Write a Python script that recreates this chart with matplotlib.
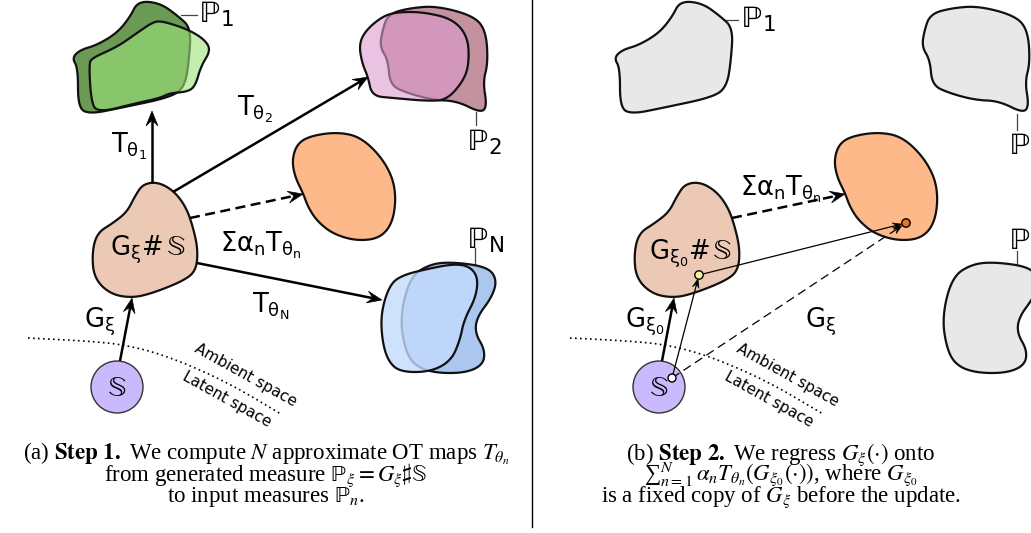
import numpy as np
import matplotlib
matplotlib.use('Agg')
import matplotlib.pyplot as plt
from matplotlib.patches import Polygon, Circle

# outlines (pixel coords, left panel)
green_back = [(138, 1), (160, 3), (178, 16), (191, 28), (189, 60), (185, 86), (172, 97),
              (120, 108), (90, 114), (78, 108), (78, 68), (72, 58), (80, 50), (97, 45),
              (117, 33), (130, 17)]
green_front = [(92, 58), (117, 47), (137, 33), (153, 22), (162, 21), (187, 29), (204, 39),
               (211, 50), (201, 66), (195, 87), (186, 92), (170, 93), (160, 98), (137, 103),
               (97, 113), (91, 100), (89, 64)]
pink_back = [(388, 14), (410, 8), (437, 6), (474, 16), (486, 31), (488, 63), (483, 82),
             (487, 106), (481, 113), (457, 101), (433, 100), (407, 93), (390, 85), (388, 60),
             (380, 47), (382, 32)]
pink_front = [(366, 30), (383, 16), (398, 12), (423, 12), (453, 19), (468, 37), (469, 63),
              (464, 80), (447, 100), (427, 101), (393, 98), (372, 96), (368, 77), (362, 63),
              (359, 44)]
blue_back = [(430, 264), (453, 262), (488, 267), (497, 280), (492, 297), (477, 317),
             (475, 333), (485, 350), (483, 365), (465, 373), (435, 373), (415, 366),
             (405, 350), (400, 317), (410, 277)]
blue_front = [(390, 284), (403, 275), (427, 269), (453, 264), (469, 266), (478, 277),
              (476, 297), (464, 320), (460, 340), (451, 361), (430, 372), (400, 372),
              (388, 361), (382, 340), (381, 312)]
orange_blob = [(297, 144), (310, 136), (337, 132), (361, 137), (384, 160), (396, 187),
               (394, 220), (381, 238), (357, 241), (333, 234), (317, 221), (308, 207),
               (303, 193), (295, 177), (292, 160)]
beige_blob = [(143, 184), (158, 182), (174, 191), (186, 207), (193, 227), (198, 250),
              (196, 271), (183, 281), (153, 293), (132, 298), (110, 294), (94, 278),
              (92, 253), (97, 233), (113, 223), (127, 212), (135, 196)]
space_curve = [(28, 338), (87, 341), (127, 345), (170, 357), (227, 382), (281, 414)]

circle_center = (117, 387)
circle_radius = 26
shift = 542  # right panel repeats the left one

# point positions in panel (b)
pt_white = (672, 378)
pt_yellow = (699, 275)
pt_orange = (906, 223)

caption_a = [r"(a) $\mathbf{Step\ 1.}$ We compute $N$ approximate OT maps $T_{\theta_n}$",
             r"from generated measure $\mathrm{\mathbb{P}}_\xi = G_\xi\sharp\mathrm{\mathbb{S}}$",
             r"to input measures $\mathrm{\mathbb{P}}_n$."]
caption_b = [r"(b) $\mathbf{Step\ 2.}$ We regress $G_\xi(\cdot)$ onto",
             r"∑$_{n=1}^{N}\,\alpha_n T_{\theta_n}\left(G_{\xi_0}(\cdot)\right)$, where $G_{\xi_0}$",
             r"is a fixed copy of $G_\xi$ before the update."]

plt.rcParams['font.family'] = ['DejaVu Sans']

fig = plt.figure(figsize=(10.31, 5.33), dpi=100)
ax = fig.add_axes([0, 0, 1, 1])
ax.set_xlim(0, 1031)
ax.set_ylim(533, 0)
ax.axis('off')


def chaikin(pts, it=4, closed=True):
    P = np.array(pts, float)
    for _ in range(it):
        Q = np.roll(P, -1, axis=0) if closed else P[1:]
        A = P if closed else P[:-1]
        new = np.empty((2 * len(A), 2))
        new[0::2] = 0.75 * A + 0.25 * Q
        new[1::2] = 0.25 * A + 0.75 * Q
        P = new if closed else np.vstack([pts[0], new, pts[-1]])
    return P


def blob(pts, fc, dx=0, alpha=1.0, z=2):
    xy = chaikin(pts) + [dx, 0]
    ax.add_patch(Polygon(xy, closed=True, fc=fc, ec='none', alpha=alpha, zorder=z))
    ax.add_patch(Polygon(xy, closed=True, fc='none', ec='#111111', lw=1.6,
                         joinstyle='round', zorder=z + 0.1))


def arrow(p0, p1, lw=1.8, hl=15, hw=6, ls='-', shrink=0):
    p0 = np.array(p0, float)
    p1 = np.array(p1, float)
    u = (p1 - p0) / np.linalg.norm(p1 - p0)
    nrm = np.array([-u[1], u[0]])
    tip = p1 - u * shrink
    end = tip - u * hl * 0.6
    ax.plot([p0[0], end[0]], [p0[1], end[1]], color='k', lw=lw, ls=ls,
            solid_capstyle='butt', zorder=5)
    head = [tip, tip - u * hl + nrm * hw, tip - u * hl * 0.62, tip - u * hl - nrm * hw]
    ax.add_patch(Polygon(head, closed=True, fc='k', ec='k', lw=0.4, zorder=5))


def sans_label(x, y, s, size=18.5):
    ax.text(x, y, s, fontsize=size, ha='left', va='baseline', zorder=6)


def bb_label(x, y, s, size=21, ha='left', va='baseline'):
    ax.text(x, y, s, fontsize=size, ha=ha, va=va, math_fontfamily='stix', zorder=6)


def leader(xs, ys):
    ax.plot(xs, ys, color='#444444', lw=0.9, zorder=1)


# ---------------- panel (a) ----------------
blob(green_back, '#6b9a55')
blob(green_front, '#9ee47b', alpha=0.6, z=3)
blob(pink_back, '#c4929f')
blob(pink_front, '#de9bd0', alpha=0.6, z=3)
blob(blue_back, '#abc7ef')
blob(blue_front, '#c4dbfc', alpha=0.8, z=3)
blob(orange_blob, '#fdb98a')
blob(beige_blob, '#ecc9b4')

# ambient / latent space, source circle, shared arrows
for dx in (0, shift):
    c = chaikin(space_curve, closed=False) + [dx, 0]
    ax.plot(c[:, 0], c[:, 1], color='k', lw=1.2, ls=(0, (1, 2)), zorder=1)
    ax.text(246 + dx, 375, 'Ambient space', fontsize=11, rotation=-29,
            ha='center', va='center', rotation_mode='anchor')
    ax.text(227 + dx, 399, 'Latent space', fontsize=11, rotation=-29,
            ha='center', va='center', rotation_mode='anchor')
    ax.add_patch(Circle((circle_center[0] + dx, circle_center[1]), circle_radius,
                        fc='#cbb9fe', ec='#333333', lw=1.0, zorder=2))
    bb_label(circle_center[0] + dx, circle_center[1] + 1, r'$\mathrm{\mathbb{S}}$',
             ha='center', va='center')
    arrow((120 + dx, 361), (132 + dx, 298))
    arrow((190 + dx, 218), (303 + dx, 194), ls=(0, (4, 2.2)))

arrow((152, 183), (152, 111))
arrow((173, 192), (368, 77))
arrow((197, 263), (382, 300))

sans_label(111, 152, r'T$_{\mathrm{\theta_1}}$')
sans_label(237, 115, r'T$_{\mathrm{\theta_2}}$')
sans_label(252, 312, r'T$_{\mathrm{\theta_N}}$')
sans_label(220, 251, r'Σα$_\mathregular{n}$T$_{\mathrm{\theta_n}}$')
sans_label(84, 327, r'G$_{\mathrm{\xi}}$')
sans_label(110, 255, r'G$_{\mathrm{\xi}}$#')
bb_label(166, 255, r'$\mathrm{\mathbb{S}}$')

# P labels with leader lines
leader([181, 197], [15, 15])
bb_label(199, 23, r'$\mathrm{\mathbb{P}}_\mathregular{1}$', size=22)
leader([476, 476], [112, 125])
bb_label(467, 151, r'$\mathrm{\mathbb{P}}_\mathregular{2}$', size=22)
leader([475, 475], [248, 264])
bb_label(467, 249, r'$\mathrm{\mathbb{P}}_\mathregular{N}$', size=22)

# ---------------- panel (b) ----------------
blob(green_back, '#e8e8e8', dx=shift)
blob(pink_back, '#e8e8e8', dx=shift)
blob(blue_back, '#e8e8e8', dx=shift)
blob(orange_blob, '#fdb98a', dx=shift)
blob(beige_blob, '#ecc9b4', dx=shift)

leader([181 + shift, 196 + shift], [20, 20])
bb_label(741, 28, r'$\mathrm{\mathbb{P}}_\mathregular{1}$', size=22)
leader([1017, 1017], [114, 130])
bb_label(1009, 155, r'$\mathrm{\mathbb{P}}_\mathregular{2}$', size=22)
leader([1017, 1017], [251, 264])
bb_label(1009, 250, r'$\mathrm{\mathbb{P}}_\mathregular{N}$', size=22)

sans_label(740, 195, r'Σα$_\mathregular{n}$T$_{\mathrm{\theta_n}}$')
sans_label(625, 327, r'G$_{\mathrm{\xi_0}}$')
sans_label(805, 327, r'G$_{\mathrm{\xi}}$')
sans_label(649, 259, r'G$_{\mathrm{\xi_0}}$#')
bb_label(712, 259, r'$\mathrm{\mathbb{S}}$')

arrow(pt_white, pt_yellow, lw=0.9, hl=9, hw=3.5, shrink=4)
arrow(pt_yellow, pt_orange, lw=0.9, hl=9, hw=3.5, shrink=4.5)
arrow(pt_white, pt_orange, lw=0.9, hl=9, hw=3.5, ls=(0, (7, 4)), shrink=5)
ax.add_patch(Circle(pt_white, 4, fc='white', ec='k', lw=1.0, zorder=7))
ax.add_patch(Circle(pt_yellow, 4.2, fc='#f8f49a', ec='k', lw=1.0, zorder=7))
ax.add_patch(Circle(pt_orange, 4.2, fc='#f07215', ec='k', lw=1.0, zorder=7))

# divider
ax.plot([532, 532], [0, 527], color='k', lw=1.0)

# captions
serif = ['Liberation Serif', 'DejaVu Serif']
for i, line in enumerate(caption_a):
    ax.text(266, 460 + 21 * i, line, fontsize=16.5, family=serif,
            math_fontfamily='stix', ha='center', va='baseline')
for i, line in enumerate(caption_b):
    ax.text(781, 460 + 21 * i, line, fontsize=16.5, family=serif,
            math_fontfamily='stix', ha='center', va='baseline')

fig.savefig('out.png', dpi=100)
